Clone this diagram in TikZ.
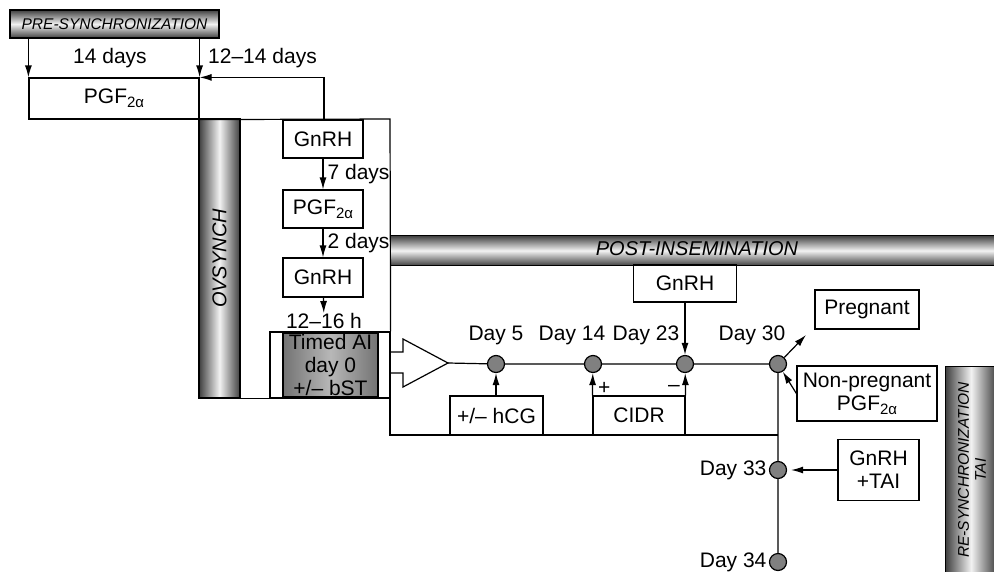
\documentclass[tikz,border=0pt]{standalone}
\usepackage{fontspec}
\setmainfont{Liberation Sans}
\usetikzlibrary{arrows.meta}
\newcommand{\prostag}{PGF\raisebox{-0.35ex}{\fontsize{15}{15}\selectfont 2α}}
\tikzset{
  txt/.style={font=\fontsize{21}{23}\selectfont, inner sep=0pt, align=center},
  box/.style={txt, draw, fill=white},
  hbar/.style={draw, top color=black!75, bottom color=black!75, middle color=black!5, inner sep=0pt},
  vbar/.style={draw, left color=black!75, right color=black!75, middle color=black!5, inner sep=0pt},
  bartxt/.style={font=\fontsize{15.5}{17}\selectfont\itshape, inner sep=0pt, align=center},
  dot/.style={circle, draw, fill=black!50, minimum size=17pt, inner sep=0pt}
}
\begin{document}
\begin{tikzpicture}[x=1pt, y=-1pt, line width=1.2pt, >={Latex[length=12pt,width=7pt]}]
  \useasboundingbox (0,0) rectangle (994,571);
  % bars
  \node[hbar, minimum width=209pt, minimum height=28pt] (pre) at (114.5,24) {};
  \node[bartxt] at (pre) {PRE-SYNCHRONIZATION};
  \node[vbar, minimum width=41pt, minimum height=279pt] (ovs) at (219.5,258.5) {};
  \node[bartxt, font=\fontsize{20}{22}\selectfont\itshape, rotate=90] at (ovs) {OVSYNCH};
  \node[hbar, minimum width=606pt, minimum height=30pt, anchor=north west] (post) at (390,235) {};
  \node[bartxt, font=\fontsize{20}{22}\selectfont\itshape] at (697,249) {POST-INSEMINATION};
  \node[vbar, minimum width=51pt, minimum height=207pt, anchor=north west] (resync) at (945,366) {};
  \node[bartxt, rotate=90] at (972,470) {RE-SYNCHRONIZATION\\TAI};

  % pre-synchronization
  \node[box, minimum width=170pt, minimum height=41pt] (pgf1) at (114,98.5) {\prostag};
  \draw[->] (pgf1.north west |- pre.south) -- (pgf1.north west);
  \draw[->] (pgf1.north east |- pre.south) -- node[txt, right=8pt] {12–14 days} (pgf1.north east);
  \node[txt] (d14lab) at (110,58) {14 days};
  \coordinate (back) at (324,119);
  \coordinate (ovsr) at (390,119);
  \draw[->] (back) |- (pgf1.north east);

  % ovsynch
  \node[box, minimum width=80pt, minimum height=38pt] (gn1) at (323,139) {GnRH};
  \node[box, minimum width=80pt, minimum height=38pt] (pgf2) at (323,209) {\prostag};
  \node[box, minimum width=80pt, minimum height=39pt] (gn2) at (323,277.5) {GnRH};
  \node[txt, anchor=north] (hlab) at (324,313) {12–16 h};
  \draw[->] (gn1) -- node[txt, right=4pt] {7 days} (pgf2);
  \draw[->] (gn2 |- pgf2.south) -- node[txt, right=4pt] {2 days} (gn2);
  \draw[->] (gn2) -- (hlab);
  \node[draw, minimum width=120pt, minimum height=66pt] (ai) at (330,365) {};
  \node[txt, draw, left color=black!55, right color=black!55, middle color=black!28,
        minimum width=95pt, minimum height=64pt] (aitxt) at (330.5,365) {Timed AI\\day 0\\+/– bST};
  \draw (pgf1.south east) -- (ovsr) -- (ai.north east);
  \draw (ovs.south east) -- (ai.south west);

  % post-insemination
  \coordinate (tip) at (448,363);
  \draw (390,352) -- (403,352) -- (403,339) -- (tip) -- (403,387) -- (403,373) -- (390,373);
  \node[dot] (d5)  at (496,364) {};
  \node[dot] (d14) at (593,364) {};
  \node[dot] (d23) at (685,364) {};
  \node[dot] (d30) at (778,364) {};
  \node[dot] (d33) at (778,470) {};
  \node[dot] (d34) at (778,562) {};
  \draw (tip) -- (d5) -- (d14) -- (d23) -- (d30);
  \draw[black!65, line width=1.7pt] (d30) -- (d33) -- (d34);
  \coordinate (lowl) at (390,435);
  \coordinate (lowr) at (778,435);
  \draw (390,373) -- (lowl) -- (lowr);
  \node[txt] at (496,335) {Day 5};
  \node[txt] at (572,335) {Day 14};
  \node[txt] at (646,335) {Day 23};
  \node[txt] at (752,335) {Day 30};
  \node[txt, anchor=east] at (767,470) {Day 33};
  \node[txt, anchor=east] at (767,562) {Day 34};

  \node[box, minimum width=103pt, minimum height=37pt] (gpost) at (685,283.5) {GnRH};
  \node[box, minimum width=93pt, minimum height=39pt] (hcg) at (496.5,415.5) {+/– hCG};
  \node[box, minimum width=92pt, minimum height=39pt] (cidr) at (639,415.5) {CIDR};
  \draw[->] (gpost) -- (d23);
  \draw[->] (hcg.north -| d5) -- (d5);
  \draw[->] (cidr.north west) -- node[txt, pos=0.3, right=5pt] {+} (d14);
  \draw[->] (cidr.north east) -- node[txt, pos=0.3, left=5pt] {–} (d23);

  % outcome
  \node[box, minimum width=104pt, minimum height=39pt] (preg) at (867,309.5) {Pregnant};
  \node[box, minimum width=140pt, minimum height=55pt] (npreg) at (867,393.5) {Non-pregnant\\\prostag};
  \node[box, minimum width=81pt, minimum height=61pt] (gtai) at (878.5,470) {GnRH\\+TAI};
  \coordinate (pregend) at (806,335);
  \draw[->] (d30) -- (pregend);
  \draw[->] (npreg.west) -- (d30);
  \draw[->, shorten >=4pt] (gtai.west) -- (d33);
\end{tikzpicture}
\end{document}
